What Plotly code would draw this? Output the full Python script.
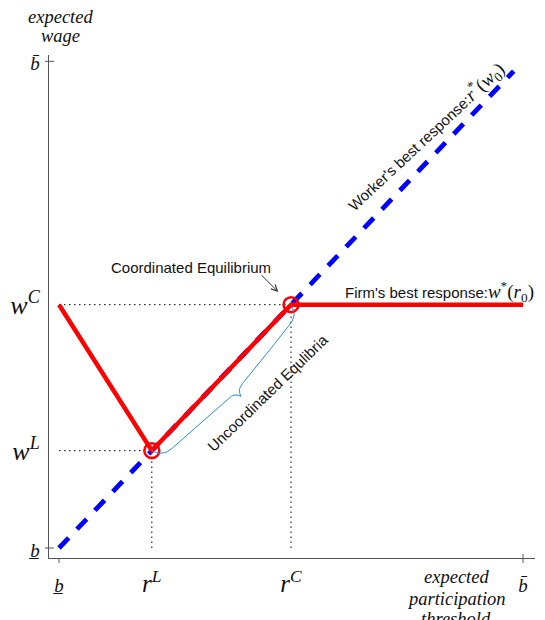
import numpy as np
import plotly.graph_objects as go

# ---- data (normalised: lower bound b = 0, upper bound b-bar = 1) ----
b_low, b_high = 0.0, 1.0
r_L, w_L = 0.2, 0.2
r_C, w_C = 0.5, 0.5
worker_x = [0.0, 0.98]
worker_y = [0.0, 0.98]
firm_x = [0.0, r_L, r_C, 1.0]
firm_y = [w_C, w_L, w_C, w_C]
eq_x = [r_L, r_C]
eq_y = [w_L, w_C]
x_tickvals = [b_low, r_L, r_C, b_high]
y_tickvals = [b_low, w_L, w_C, b_high]

B_SMALL = "<span style='font-size:19px'><i>b̲</i></span>"
B_BAR = "<span style='font-size:19px'><i>b̄</i></span>"
x_ticktext = [B_SMALL, "<i>r<sup>L</sup></i>", "<i>r<sup>C</sup></i>", B_BAR]
y_ticktext = [B_SMALL, "<i>w<sup>L</sup></i>", "<i>w<sup>C</sup></i>", B_BAR]

# ---- layout geometry (page has an 8px body margin) ----
OFF = 8
W, H = 545 - OFF, 620 - OFF
ML, MR, MT, MB = 49 - OFF, 10, 55 - OFF, 62
PW, PH = W - ML - MR, H - MT - MB
x_range = [-0.0216, 1.0258]
y_range = [-0.0205, 1.013]
sx = PW / (x_range[1] - x_range[0])
sy = PH / (y_range[1] - y_range[0])


def pxx(px):  # page pixel x -> paper x
    return (px - OFF - ML) / PW


def pxy(py):  # page pixel y -> paper y
    return (H - MB - (py - OFF)) / PH


SERIF = "Liberation Serif"
SANS = "Liberation Sans"
AXIS_COL = "#555555"


def brace(p0, p1):
    """curly brace below-right of segment p0->p1, built in pixel space."""
    a = np.array([p0[0] * sx, -p0[1] * sy])
    b = np.array([p1[0] * sx, -p1[1] * sy])
    d = b - a
    L = np.hypot(*d)
    uh = d / L
    vh = np.array([-uh[1], uh[0]])
    half = L / 2
    u1 = np.linspace(0, half, 80)
    v1 = 12 * (1 - np.exp(-u1 / 4)) + 8 * u1 / half + 7 * np.exp(-(half - u1) / 2.5)
    u = np.concatenate([u1, L - u1[::-1]])
    v = np.concatenate([v1, v1[::-1]])
    pts = a[None, :] + u[:, None] * uh[None, :] + v[:, None] * vh[None, :]
    return pts[:, 0] / sx, -pts[:, 1] / sy


fig = go.Figure()

dot = dict(color="black", width=1, dash="1.5px,3.5px")
for (xx, yy) in [(r_L, w_L), (r_C, w_C)]:
    fig.add_trace(go.Scatter(x=[b_low, xx], y=[yy, yy], mode="lines", line=dot, hoverinfo="skip"))
    fig.add_trace(go.Scatter(x=[xx, xx], y=[b_low, yy], mode="lines", line=dot, hoverinfo="skip"))

fig.add_trace(go.Scatter(x=worker_x, y=worker_y, mode="lines",
                         line=dict(color="#0000ff", width=4.8, dash="14px,12px"), hoverinfo="skip"))
fig.add_trace(go.Scatter(x=firm_x, y=firm_y, mode="lines",
                         line=dict(color="#ff0000", width=4.5), hoverinfo="skip"))
fig.add_trace(go.Scatter(x=eq_x, y=eq_y, mode="markers",
                         marker=dict(symbol="circle-open", size=15, color="#ff0000",
                                     line=dict(width=2.5, color="#ff0000")), hoverinfo="skip"))
bx, by = brace((r_L, w_L), (r_C, w_C))
fig.add_trace(go.Scatter(x=bx, y=by, mode="lines", line=dict(color="#2b8cd6", width=1), hoverinfo="skip"))

# tick marks (crossing the axis lines)
shapes = []
for yv in [b_low, b_high]:
    shapes.append(dict(type="line", xref="paper", yref="y", xsizemode="pixel", xanchor=0,
                       x0=-4, x1=5, y0=yv, y1=yv, line=dict(color=AXIS_COL, width=1)))
shapes.append(dict(type="line", xref="x", yref="paper", ysizemode="pixel", yanchor=0,
                   y0=-5, y1=0, x0=b_low, x1=b_low, line=dict(color=AXIS_COL, width=1)))
shapes.append(dict(type="line", xref="x", yref="paper", ysizemode="pixel", yanchor=0,
                   y0=-5, y1=4, x0=b_high, x1=b_high, line=dict(color=AXIS_COL, width=1)))

math = "font-family:Liberation Serif;font-size:19px"
lab_font = dict(family=SERIF, size=18.5, color="#111")
ann = []
for word, px, py in [("expected", 60, 17), ("wage", 60, 36),
                     ("expected", 456, 577), ("participation", 456, 599), ("threshold", 456, 619)]:
    ann.append(dict(xref="paper", yref="paper", x=pxx(px), y=pxy(py), text="<i>%s</i>" % word,
                    showarrow=False, xanchor="center", yanchor="middle", font=lab_font))
ann += [
    dict(x=0.79, y=0.846, xref="x", yref="y", textangle=-43, showarrow=False,
         text="Worker's best response:<span style='%s'><i>r</i><sup>*</sup>(<i>w</i><sub>0</sub>)</span>" % math,
         font=dict(family=SANS, size=15, color="#111")),
    dict(xref="paper", yref="y", x=pxx(536), y=0.527, xanchor="right", showarrow=False,
         text="Firm's best response:<span style='%s'><i>w</i><sup>*</sup>(<i>r</i><sub>0</sub>)</span>" % math,
         font=dict(family=SANS, size=15, color="#111")),
    dict(x=0.45, y=0.32, xref="x", yref="y", textangle=-44, showarrow=False,
         text="Uncoordinated Equlibria", font=dict(family=SANS, size=15, color="#111")),
    dict(x=0.284, y=0.576, xref="x", yref="y", showarrow=False,
         text="Coordinated Equilibrium", font=dict(family=SANS, size=15, color="#111")),
    dict(x=r_C, y=w_C, xref="x", yref="y", text="", showarrow=True, arrowhead=5, arrowsize=1.2,
         arrowwidth=1, arrowcolor="#333", ax=-31, ay=-31, standoff=18),
]

fig.update_layout(
    width=W, height=H, margin=dict(l=ML, r=MR, t=MT, b=MB, autoexpand=False),
    paper_bgcolor="white", plot_bgcolor="white", showlegend=False,
    shapes=shapes, annotations=ann,
    xaxis=dict(range=x_range, showgrid=False, zeroline=False, showline=True, linecolor=AXIS_COL,
               linewidth=1, tickvals=x_tickvals, ticktext=x_ticktext, ticks="", automargin=False,
               tickfont=dict(family=SERIF, size=25, color="#111"), ticklabelstandoff=3),
    yaxis=dict(range=y_range, showgrid=False, zeroline=False, showline=True, linecolor=AXIS_COL,
               linewidth=1, tickvals=y_tickvals, ticktext=y_ticktext, ticks="", automargin=False,
               tickfont=dict(family=SERIF, size=26, color="#111"), ticklabelstandoff=3),
)

fig.write_html("out.html")
